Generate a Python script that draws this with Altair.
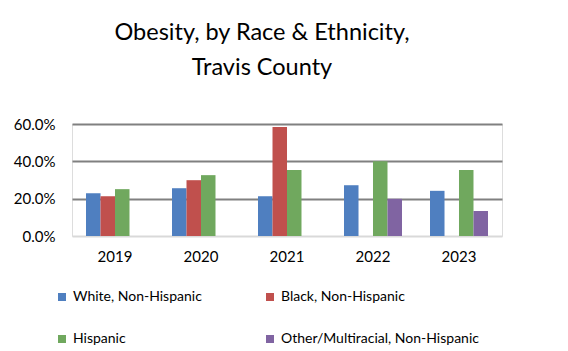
import altair as alt
import pandas as pd

years = ["2019", "2020", "2021", "2022", "2023"]
groups = ["White, Non-Hispanic", "Black, Non-Hispanic", "Hispanic", "Other/Multiracial, Non-Hispanic"]
white = [0.229, 0.256, 0.213, 0.272, 0.242]
black = [0.213, 0.299, 0.584, None, None]
hispanic = [0.251, 0.326, 0.353, 0.401, 0.353]
other = [None, None, None, 0.199, 0.134]
colors = ["#4F7FC0", "#C0504D", "#70A85E", "#8064A2"]

rows = []
for g, vals in zip(groups, [white, black, hispanic, other]):
    for y, v in zip(years, vals):
        if v is not None:
            rows.append({"Year": y, "Group": g, "Value": v})
df = pd.DataFrame(rows)

FONT = "Lato"

chart = alt.Chart(df).mark_bar(size=14.5).encode(
    x=alt.X("Year:N", sort=years, title=None,
            scale=alt.Scale(paddingInner=0.326, paddingOuter=0.163),
            axis=alt.Axis(labelAngle=0, ticks=False, domain=False, labelPadding=13,
                          labelFontSize=15, labelColor="#000000", labelFont=FONT)),
    xOffset=alt.XOffset("Group:N", sort=groups, scale=alt.Scale(domain=groups, paddingInner=0, paddingOuter=0)),
    y=alt.Y("Value:Q", title=None,
            scale=alt.Scale(domain=[0, 0.6], nice=False),
            axis=alt.Axis(values=[0, 0.2, 0.4, 0.6], format=".1%", ticks=False, domain=False,
                          labelPadding=17, labelFontSize=15, labelColor="#000000", labelFont=FONT,
                          gridWidth=2,
                          gridColor={"condition": {"test": "datum.value === 0", "value": "#d9d9d9"}, "value": "#808080"})),
    color=alt.Color("Group:N", sort=groups,
                    scale=alt.Scale(domain=groups, range=colors),
                    legend=alt.Legend(title=None, orient="none", legendX=-17, legendY=166,
                                      columns=2, columnPadding=61, rowPadding=28,
                                      symbolType="square", symbolSize=64, symbolStrokeWidth=0,
                                      labelFontSize=14, labelFont=FONT, labelColor="#000000",
                                      labelOffset=4, labelLimit=400, direction="horizontal")),
).properties(
    width=430,
    height=112,
    title=alt.TitleParams(["Obesity, by Race & Ethnicity,", "Travis County"],
                          font=FONT, fontSize=23.5, fontWeight="normal", color="#000000",
                          anchor="middle", dx=-25, offset=38, lineHeight=35),
    padding={"left": 72, "top": 124, "right": 66, "bottom": 115},
    autosize=alt.AutoSizeParams(type="none"),
).configure_view(stroke=None).configure(background="#ffffff")

chart.save("out.html", embed_options={"renderer": "svg", "actions": False})
